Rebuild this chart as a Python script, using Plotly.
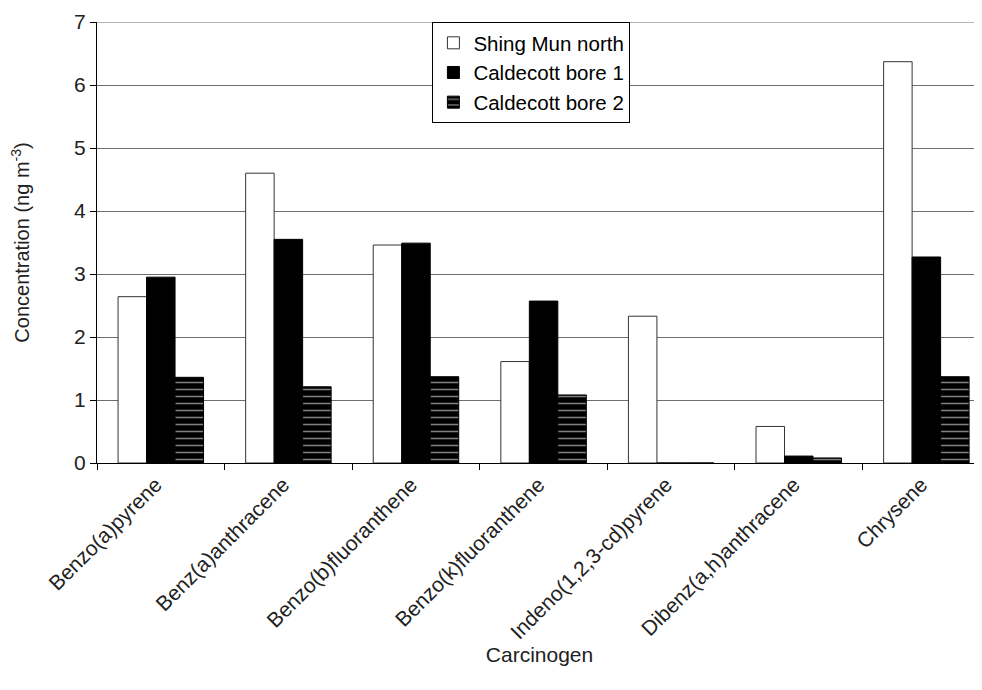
import plotly.graph_objects as go

categories = ["Benzo(a)pyrene", "Benz(a)anthracene", "Benzo(b)fluoranthene",
              "Benzo(k)fluoranthene", "Indeno(1,2,3-cd)pyrene",
              "Dibenz(a,h)anthracene", "Chrysene"]
shing_mun_north = [2.64, 4.60, 3.46, 1.61, 2.33, 0.58, 6.37]
caldecott_bore1 = [2.95, 3.55, 3.49, 2.57, 0.0, 0.11, 3.27]
caldecott_bore2 = [1.36, 1.21, 1.37, 1.08, 0.0, 0.08, 1.37]
y_ticks = [0, 1, 2, 3, 4, 5, 6, 7]

FONT = "Liberation Sans"
TXT = "#222222"
GRID = "#6e6e6e"

fig = go.Figure()
fig.add_trace(go.Bar(
    x=categories, y=shing_mun_north, name="Shing Mun north",
    marker=dict(color="white", line=dict(color="#333333", width=1)),
    legendgroup="a"))
fig.add_trace(go.Bar(
    x=categories, y=caldecott_bore1, name="Caldecott bore 1",
    marker=dict(color="black", line=dict(color="black", width=1)),
    legendgroup="b"))
fig.add_trace(go.Bar(
    x=categories, y=caldecott_bore2, name="Caldecott bore 2",
    marker=dict(color="black", line=dict(color="black", width=1),
                pattern=dict(shape="-", bgcolor="black", fgcolor="white",
                             size=7, solidity=0.22)),
    legendgroup="c"))

# top gridline at the axis maximum
fig.add_shape(type="line", xref="paper", yref="y", x0=0, x1=1,
              y0=y_ticks[-1], y1=y_ticks[-1], line=dict(color=GRID, width=1),
              layer="below")

fig.update_layout(
    width=982, height=690,
    margin=dict(l=89, r=8, t=14, b=235),
    paper_bgcolor="white", plot_bgcolor="white",
    barmode="group", bargap=0.33, bargroupgap=0,
    font=dict(family=FONT, color=TXT, size=20),
    showlegend=True,
    legend=dict(x=0.379, y=1.0, xanchor="left", yanchor="top",
                bgcolor="white", bordercolor="black", borderwidth=1,
                font=dict(family=FONT, size=20.5, color="black"),
                tracegroupgap=0, traceorder="grouped",
                itemwidth=30),
    xaxis=dict(range=[-0.5, 6.436], showline=True, linecolor="black",
               linewidth=1, ticks="outside", tickson="boundaries",
               ticklen=6, tickcolor="black", tickangle=-45,
               ticklabelshift=-5,
               tickfont=dict(size=21, color=TXT), automargin=False,
               title=dict(text="Carcinogen", font=dict(size=21, color=TXT),
                          standoff=0),
               showgrid=False),
    yaxis=dict(range=[0, 7], tickvals=y_ticks, showline=True,
               linecolor="black", linewidth=1, ticks="outside", ticklen=6,
               tickcolor="black", tickfont=dict(size=21, color=TXT),
               showgrid=True, gridcolor=GRID, gridwidth=1,
               zeroline=False, automargin=False,
               title=dict(text="Concentration (ng m<sup>-3</sup>)",
                          font=dict(size=20, color=TXT), standoff=47)),
)

fig.write_html("out.html")
